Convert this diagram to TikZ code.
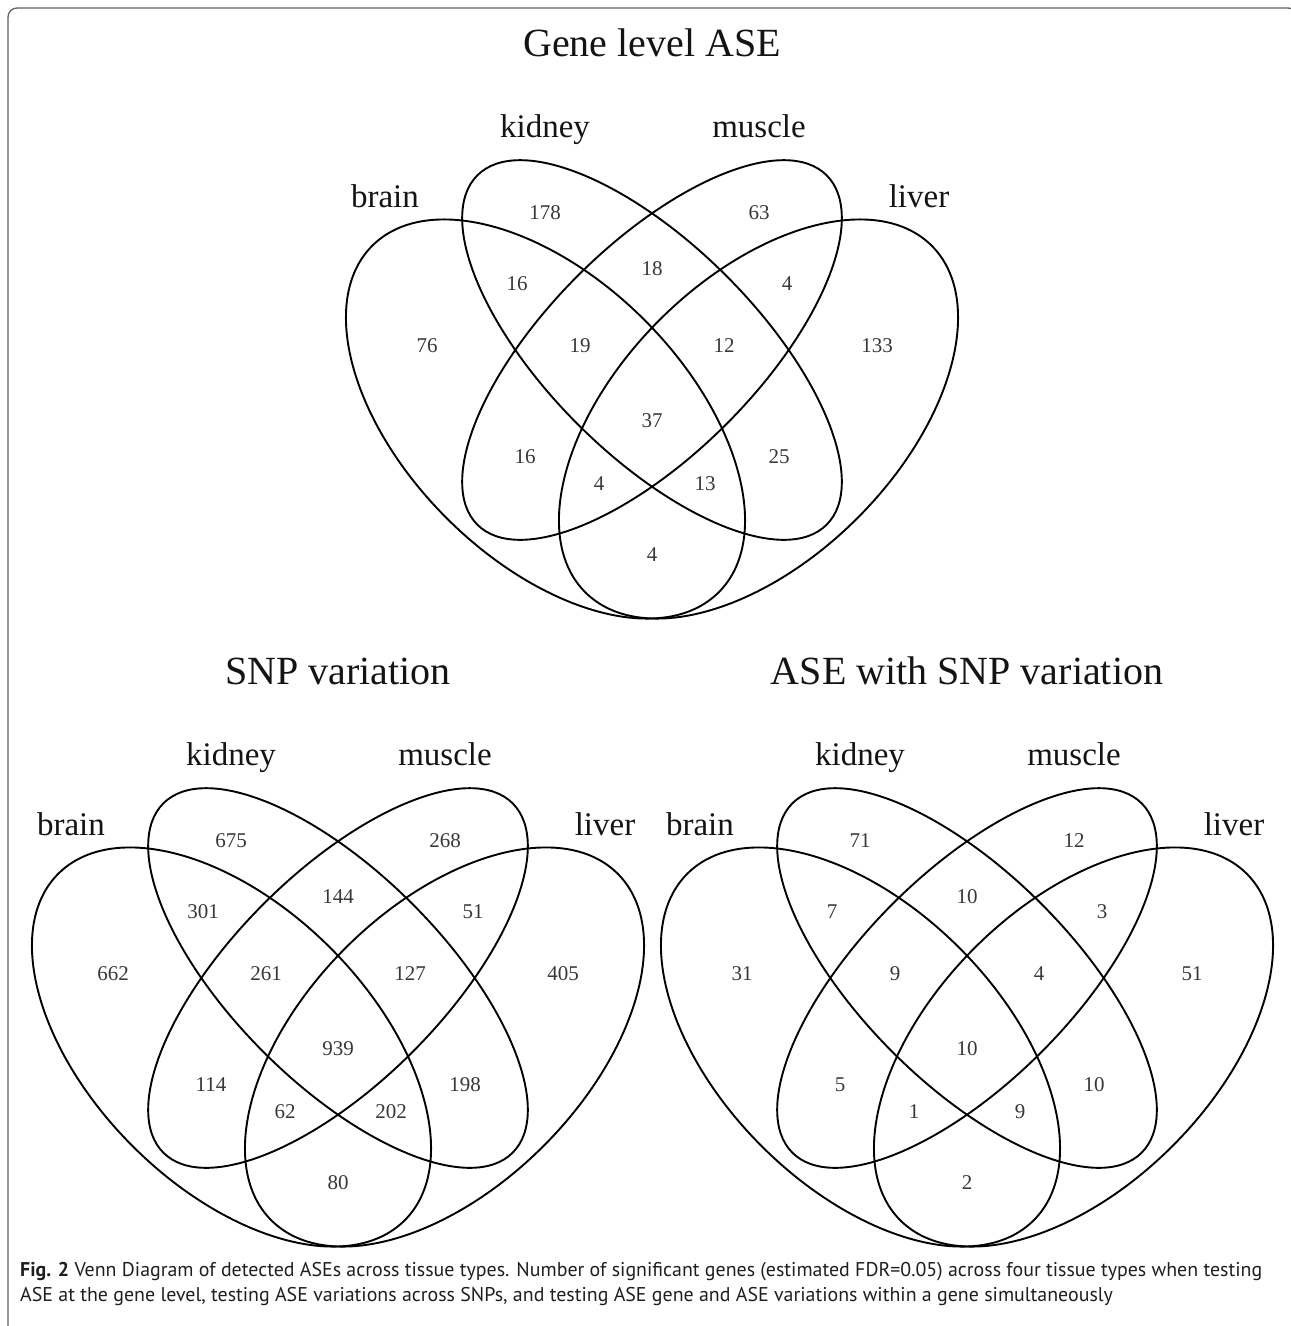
\documentclass[tikz,border=0pt]{standalone}
\usepackage{fontspec}
\setmainfont{Liberation Serif}
\newfontfamily\capfont{PT Sans}
\tikzset{
  vline/.style={line width=1.9pt, draw=black},
  num/.style={font=\fontsize{21}{24}\selectfont, text=black!78, inner sep=0pt},
  cat/.style={font=\fontsize{33}{38}\selectfont, text=black!92, inner sep=0pt, anchor=base},
  ttl/.style={font=\fontsize{40}{46}\selectfont, text=black!92, inner sep=0pt},
  framel/.style={draw=black!62, line width=1.3pt, rounded corners=9pt},
  captext/.style={anchor=base west, inner sep=0pt, text=black!88, font=\capfont\fontsize{\capsz}{\capsz}\selectfont},
}
\newcommand\vennshape{%
  \draw[vline, rotate around={-45:(-106.5,69)}] (-106.5,69) ellipse [x radius=245pt, y radius=140pt];
  \draw[vline, rotate around={-45:(0,0)}] (0,0) ellipse [x radius=247pt, y radius=105pt];
  \draw[vline, rotate around={45:(0,0)}] (0,0) ellipse [x radius=247pt, y radius=105pt];
  \draw[vline, rotate around={45:(106.5,69)}] (106.5,69) ellipse [x radius=245pt, y radius=140pt];
}
\newcommand\vennnames[1]{%
  \node[cat] (#1-kidney) at (-107,-213) {kidney};
  \node[cat] (#1-muscle) at (107,-213) {muscle};
  \node[cat] (#1-brain) at (-267,-143) {brain};
  \node[cat] (#1-liver) at (267,-143) {liver};
}
\newsavebox\capboxa
\newlength\capw
\begin{document}
\sbox\capboxa{\capfont\fontsize{10}{12}\selectfont\textbf{Fig. 2} Venn Diagram of detected ASEs across tissue types. Number of significant genes (estimated FDR=0.05) across four tissue types when testing}%
\setlength\capw{\wd\capboxa}%
\pgfmathsetmacro\capsz{10*1242/\the\capw}%
\begin{tikzpicture}[x=1pt,y=-1pt]
\useasboundingbox (0,0) rectangle (1291,1326);
\fill[white] (0,0) rectangle (1291,1326);
\draw[framel] (8,1345) -- (8,8) -- (1297,8) -- (1297,1345);

% ---------- top diagram ----------
\begin{scope}[shift={(652,350)}]
  \vennshape
  \node[ttl] (t-title) at (0,-307) {Gene level ASE};
  \vennnames{t}
  \foreach \nm/\px/\py/\val in {b/-225/-4/76, l/225/-4/133, k/-107/-137/178, m/107/-137/63,
      bk/-135/-66/16, km/0/-81/18, ml/135/-66/4, bkm/-72/-4/19, kml/72/-4/12, all/0/71/37,
      bm/-127/107/16, kl/127/107/25, bml/-53/134/4, bkl/53/134/13, bl/0/205/4}
    \node[num] (t-\nm) at (\px,\py) {\val};
\end{scope}

% ---------- bottom left ----------
\begin{scope}[shift={(338,978)}]
  \vennshape
  \node[ttl] (s-title) at (0,-307) {SNP variation};
  \vennnames{s}
  \foreach \nm/\px/\py/\val in {b/-225/-4/662, l/225/-4/405, k/-107/-137/675, m/107/-137/268,
      bk/-135/-66/301, km/0/-81/144, ml/135/-66/51, bkm/-72/-4/261, kml/72/-4/127, all/0/71/939,
      bm/-127/107/114, kl/127/107/198, bml/-53/134/62, bkl/53/134/202, bl/0/205/80}
    \node[num] (s-\nm) at (\px,\py) {\val};
\end{scope}

% ---------- bottom right ----------
\begin{scope}[shift={(967,978)}]
  \vennshape
  \node[ttl] (a-title) at (0,-307) {ASE with SNP variation};
  \vennnames{a}
  \foreach \nm/\px/\py/\val in {b/-225/-4/31, l/225/-4/51, k/-107/-137/71, m/107/-137/12,
      bk/-135/-66/7, km/0/-81/10, ml/135/-66/3, bkm/-72/-4/9, kml/72/-4/4, all/0/71/10,
      bm/-127/107/5, kl/127/107/10, bml/-53/134/1, bkl/53/134/9, bl/0/205/2}
    \node[num] (a-\nm) at (\px,\py) {\val};
\end{scope}

% ---------- caption ----------
\node[captext] (cap1) at (20,1276)
  {\textbf{Fig. 2} Venn Diagram of detected ASEs across tissue types. Number of significant genes (estimated FDR=0.05) across four tissue types when testing};
\node[captext] (cap2) at (20,1301)
  {ASE at the gene level, testing ASE variations across SNPs, and testing ASE gene and ASE variations within a gene simultaneously};
\end{tikzpicture}
\end{document}
